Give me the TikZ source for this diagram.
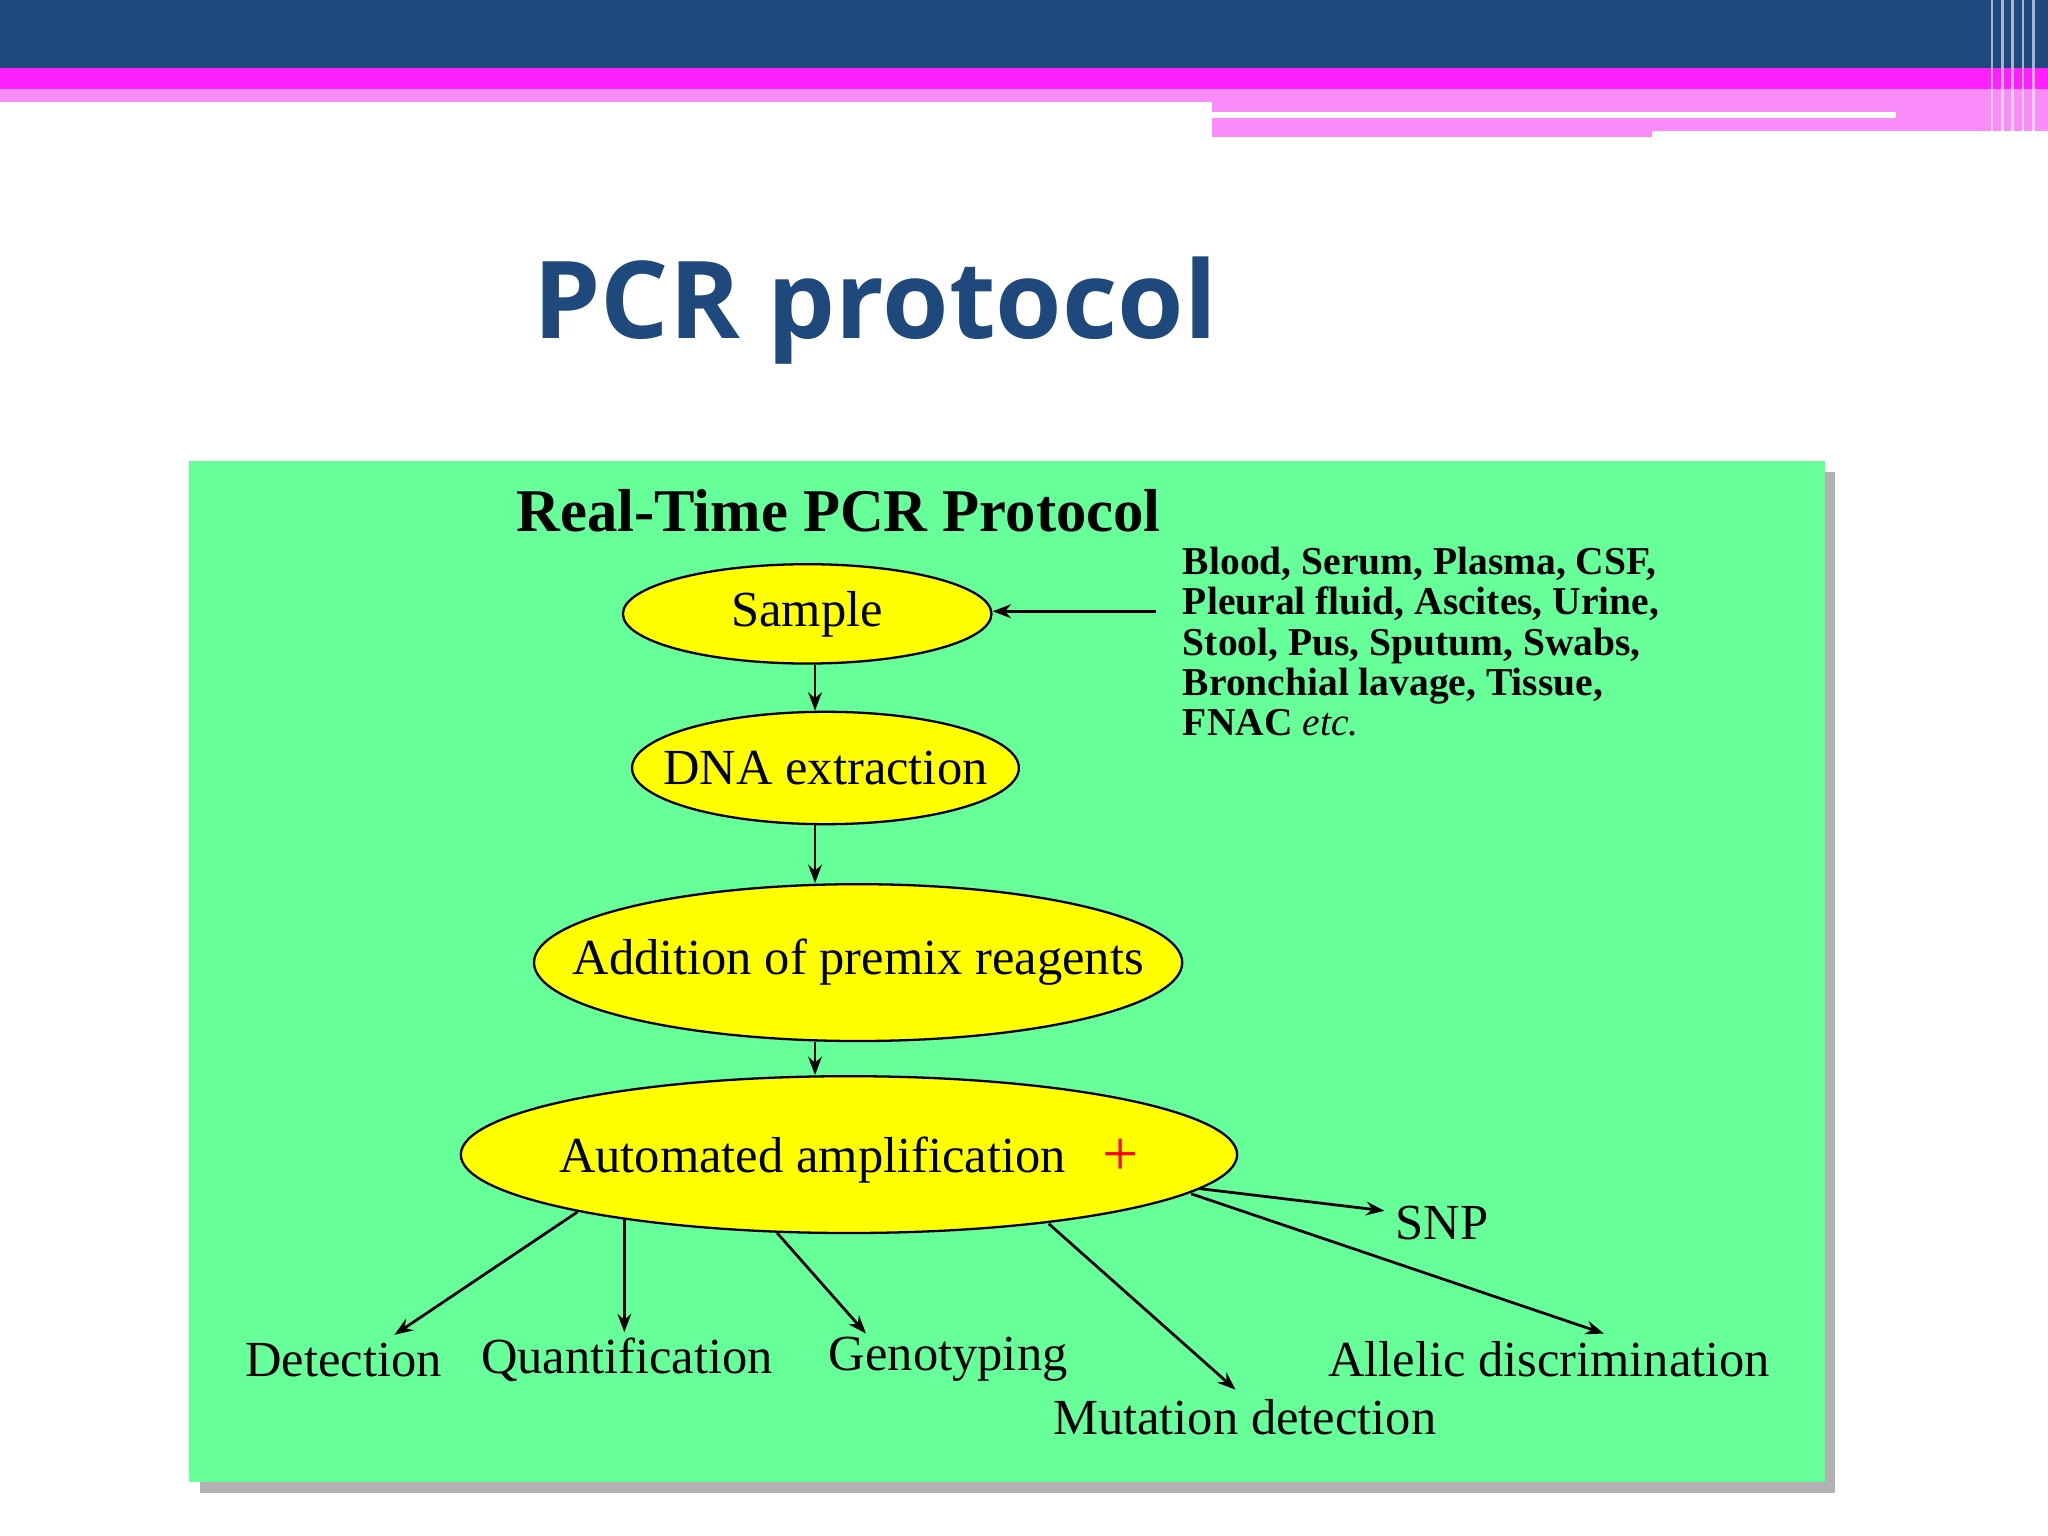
\documentclass[tikz,border=0pt]{standalone}
\usepackage{fontspec}
\setmainfont{Liberation Serif}
\newfontfamily\titlefont{Open Sans}
\usetikzlibrary{shapes.geometric,arrows.meta}
\definecolor{topblue}{RGB}{31,73,125}
\definecolor{mag}{RGB}{255,32,255}
\definecolor{lpink}{RGB}{250,140,250}
\definecolor{grn}{RGB}{102,255,153}
\definecolor{yel}{RGB}{255,255,0}
\begin{document}
\begin{tikzpicture}[x=0.01cm,y=-0.01cm,
  ell/.style={ellipse,draw=black,line width=0.5pt,fill=yel,inner sep=0pt},
  etext/.style={font=\fontsize{11}{13}\selectfont},
  arr/.style={-{Stealth[length=4pt,width=3pt]},line width=0.6pt},
  lab/.style={font=\fontsize{11}{13}\selectfont,inner sep=0pt}]
\useasboundingbox (0,0) rectangle (1568,1176);
\fill[white] (0,0) rectangle (1568,1176);
% header bars
\fill[topblue] (0,0) rectangle (1568,52);
\fill[mag] (0,52) rectangle (1568,68);
\fill[lpink] (0,68) rectangle (928,78);
\fill[lpink] (928,68) rectangle (1568,105);
\fill[white] (928,86) rectangle (1452,90);
\fill[white] (1265,100) rectangle (1568,105);
\foreach \x in {1524,1532,1540,1548,1556}{\fill[white,opacity=0.6] (\x,0) rectangle (\x+2,105);}
% title
\node[font=\titlefont\bfseries\fontsize{23.4}{28}\selectfont,text=topblue] (title) at (670,238) {PCR protocol};
% green panel
\fill[gray!60] (153,361) rectangle (1405,1143);
\fill[grn] (145,353) rectangle (1397,1135);
\node[font=\bfseries\fontsize{13.2}{15}\selectfont] (ptitle) at (642,391) {Real-Time PCR Protocol};
% ellipses
\node[ell,minimum width=2.82cm,minimum height=0.76cm] (sample) at (618,470) {};
\node[etext] at (sample) {Sample};
\node[ell,minimum width=2.96cm,minimum height=0.86cm] (dna) at (632,588) {};
\node[etext] at (dna) {DNA extraction};
\node[ell,minimum width=4.96cm,minimum height=1.2cm] (add) at (657,737) {};
\node[etext] at (add) {Addition of premix reagents};
\node[ell,minimum width=5.94cm,minimum height=1.2cm] (auto) at (650,884) {};
\node[etext] (autotext) at (622,888) {Automated amplification};
\node[text=red,font=\fontsize{14}{14}\selectfont] (plus) at (858,886) {+};
% list
\node[anchor=north west,align=left,font=\bfseries\fontsize{8.6}{8.8}\selectfont,inner sep=0pt] (list) at (905,418)
 {Blood, Serum, Plasma, CSF,\\Pleural fluid, Ascites, Urine,\\Stool, Pus, Sputum, Swabs,\\Bronchial lavage, Tissue,\\FNAC \textit{\mdseries etc.}};
\coordinate (lstart) at (885,468);
\draw[arr] (lstart) -- (sample.east |- lstart);
% vertical arrows
\draw[arr] (sample.south -| 624,0) -- (dna.north -| 624,0);
\draw[arr] (dna.south -| 624,0) -- (add.north -| 624,0);
\draw[arr] (add.south -| 624,0) -- (auto.north -| 624,0);
% outputs
\node[lab] (det) at (263,1041) {Detection};
\node[lab] (quant) at (480,1041) {Quantification};
\node[lab] (geno) at (726,1041) {Genotyping};
\node[lab] (mut) at (953,1085) {Mutation detection};
\node[lab] (all) at (1186,1041) {Allelic discrimination};
\node[lab] (snp) at (1104,936) {SNP};
\coordinate (s1) at (442,928); \coordinate (t1) at (302,1022);
\coordinate (s2) at (478,933); \coordinate (t2) at (478,1020);
\coordinate (s3) at (595,944); \coordinate (t3) at (663,1021);
\coordinate (s4) at (803,937); \coordinate (t4) at (946,1064);
\coordinate (s5) at (912,914); \coordinate (t5) at (1228,1021);
\coordinate (s6) at (918,910); \coordinate (t6) at (1060,927);
\foreach \i in {1,...,6}{\draw[arr] (s\i) -- (t\i);}
\end{tikzpicture}
\end{document}
